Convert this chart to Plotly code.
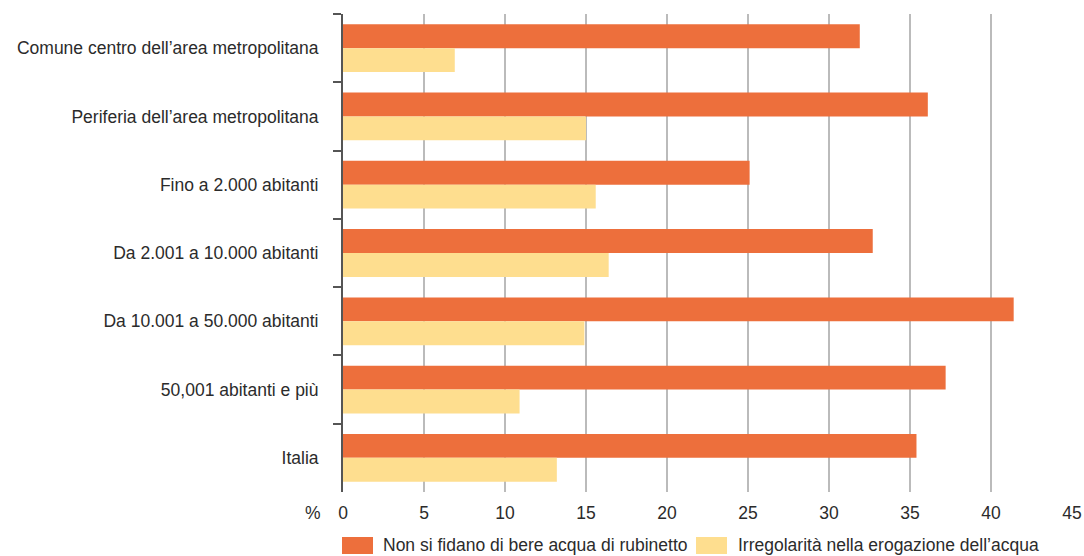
import plotly.graph_objects as go

categories = [
    "Comune centro dell’area metropolitana",
    "Periferia dell’area metropolitana",
    "Fino a 2.000 abitanti",
    "Da 2.001 a 10.000 abitanti",
    "Da 10.001 a 50.000 abitanti",
    "50,001 abitanti e più",
    "Italia",
]
series_names = ["Non si fidano di bere acqua di rubinetto", "Irregolarità nella erogazione dell’acqua"]
non_si_fidano = [31.9, 36.1, 25.1, 32.7, 41.4, 37.2, 35.4]
irregolarita = [6.9, 15.0, 15.6, 16.4, 14.9, 10.9, 13.2]
x_ticks = [0, 5, 10, 15, 20, 25, 30, 35, 40, 45]

ORANGE = "#ED6F3C"
YELLOW = "#FEDE8F"
FONT = "Liberation Sans, Arial, sans-serif"
FS = 17.5
TEXT = "#2b2b2b"

fig = go.Figure()
fig.add_trace(go.Bar(y=categories, x=non_si_fidano, orientation="h", name=series_names[0],
                     marker=dict(color=ORANGE, line=dict(width=0))))
fig.add_trace(go.Bar(y=categories, x=irregolarita, orientation="h", name=series_names[1],
                     marker=dict(color=YELLOW, line=dict(width=0))))

W, H = 1084, 556
L, R, T, B = 343, 12, 14, 64
pw = W - L - R
ph = H - T - B

fig.update_layout(
    width=W, height=H,
    margin=dict(l=L, r=R, t=T, b=B, pad=0, autoexpand=False),
    barmode="group", bargap=0.3, bargroupgap=0,
    plot_bgcolor="white", paper_bgcolor="white",
    showlegend=False,
    font=dict(family=FONT, size=FS, color=TEXT),
    xaxis=dict(range=[0, 45], tickvals=x_ticks, showgrid=True, gridcolor="#BBBBBB", gridwidth=2,
               zeroline=False, showline=False, ticks="", ticklabelstandoff=8,
               tickfont=dict(family=FONT, size=FS, color=TEXT), fixedrange=True,
               automargin=False),
    yaxis=dict(autorange="reversed", showline=True, linecolor="#555555", linewidth=2,
               ticks="outside", tickson="boundaries", ticklen=8, tickwidth=2, tickcolor="#555555",
               ticklabelstandoff=19, showgrid=False, automargin=False,
               tickfont=dict(family=FONT, size=FS, color=TEXT), fixedrange=True),
)

def px_x(v):
    return (v - L) / pw

def px_y(v):
    return (T + ph - v) / ph

# "%" label next to the x axis
fig.add_annotation(text="%", xref="paper", yref="paper", x=px_x(313), y=px_y(513),
                   showarrow=False, xanchor="center", yanchor="middle",
                   font=dict(family=FONT, size=FS, color=TEXT))

# manual legend
legend_items = [(342, 373, 381, ORANGE, series_names[0]), (696, 727, 736, YELLOW, series_names[1])]
for x0, x1, tx, col, name in legend_items:
    fig.add_shape(type="rect", xref="paper", yref="paper", x0=px_x(x0), x1=px_x(x1),
                  y0=px_y(554), y1=px_y(537), fillcolor=col, line=dict(width=0))
    fig.add_annotation(text=name, xref="paper", yref="paper", x=px_x(tx), y=px_y(545),
                       showarrow=False, xanchor="left", yanchor="middle",
                       font=dict(family=FONT, size=FS, color=TEXT))

fig.write_html("out.html", config={"displayModeBar": False},
               post_script="document.body.style.margin='0';document.body.style.overflow='hidden';")
